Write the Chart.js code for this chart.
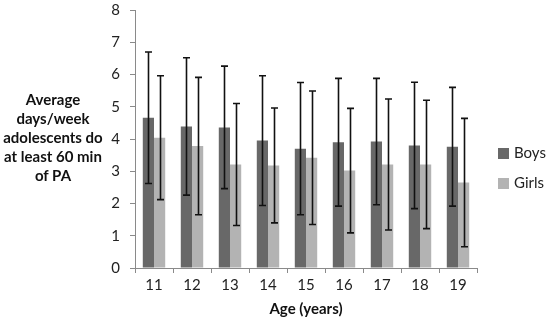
<!DOCTYPE html>
<html lang="en">
<head>
  <meta charset="UTF-8">
  <title>Days per week of PA by age</title>
  <style>
    body {
      margin: 0;
      background: #fff;
      font-family: Lato, "Open Sans", sans-serif;
    }
    .wrap {
      position: relative;
      width: 550px;
      height: 325px;
    }
    canvas {
      display: block;
    }
    .y-title {
      position: absolute;
      left: 0;
      top: 90px;
      width: 106px;
      text-align: center;
      font-weight: bold;
      font-size: 15px;
      line-height: 19px;
      color: #111;
    }
    .legend {
      position: absolute;
      left: 498px;
      top: 143px;
      font-size: 15px;
      color: #222;
    }
    .legend div {
      height: 30px;
      line-height: 18px;
    }
    .legend span {
      display: inline-block;
      width: 11px;
      height: 11px;
      margin-right: 5px;
      vertical-align: -1px;
    }
  </style>
</head>
<body>

  <div class="wrap">
    <canvas id="paChart" width="550" height="325"></canvas>
    <div class="y-title">Average<br>days/week<br>adolescents do<br>at least 60 min<br>of PA</div>
    <div class="legend">
      <div><span style="background:#686868"></span>Boys</div>
      <div><span style="background:#b3b3b3"></span>Girls</div>
    </div>
  </div>

  <script src="https://cdn.jsdelivr.net/npm/chart.js"></script>
  <script>
    // values
    const ages = ['11', '12', '13', '14', '15', '16', '17', '18', '19'];
    const boys = [4.66, 4.39, 4.36, 3.95, 3.70, 3.90, 3.92, 3.80, 3.76];
    const girls = [4.04, 3.78, 3.21, 3.18, 3.42, 3.02, 3.21, 3.21, 2.65];
    const boysSD = [2.04, 2.13, 1.90, 2.01, 2.05, 1.98, 1.96, 1.96, 1.84];
    const girlsSD = [1.92, 2.13, 1.89, 1.78, 2.07, 1.93, 2.03, 1.99, 1.99];
    const yTicks = [0, 1, 2, 3, 4, 5, 6, 7, 8];

    const axisColor = '#8a8a8a';
    const tickFont = { family: 'Lato, "Open Sans", sans-serif', size: 15 };

    // draws +/- SD whiskers on top of each bar
    const errorBars = {
      id: 'errorBars',
      afterDatasetsDraw(chart) {
        const ctx = chart.ctx;
        const y = chart.scales.y;
        ctx.save();
        ctx.strokeStyle = '#111';
        ctx.lineWidth = 1.6;
        chart.data.datasets.forEach((ds, di) => {
          const meta = chart.getDatasetMeta(di);
          meta.data.forEach((bar, i) => {
            const v = ds.data[i];
            const sd = ds.sd[i];
            const top = y.getPixelForValue(v + sd);
            const bot = y.getPixelForValue(v - sd);
            const x = Math.round(bar.x) + 0.5;
            ctx.beginPath();
            ctx.moveTo(x, top);
            ctx.lineTo(x, bot);
            ctx.moveTo(x - 3.5, top);
            ctx.lineTo(x + 3.5, top);
            ctx.moveTo(x - 3.5, bot);
            ctx.lineTo(x + 3.5, bot);
            ctx.stroke();
          });
        });
        ctx.restore();
      }
    };

    new Chart(document.getElementById('paChart'), {
      type: 'bar',
      data: {
        labels: ages,
        datasets: [
          { label: 'Boys', data: boys, sd: boysSD, backgroundColor: '#686868' },
          { label: 'Girls', data: girls, sd: girlsSD, backgroundColor: '#b3b3b3' }
        ]
      },
      options: {
        responsive: false,
        animation: false,
        layout: { padding: { left: 100, right: 73, top: 10, bottom: 7 } },
        datasets: { bar: { categoryPercentage: 0.59, barPercentage: 1.0 } },
        plugins: {
          legend: { display: false },
          tooltip: { enabled: false }
        },
        scales: {
          x: {
            grid: {
              offset: true,
              drawOnChartArea: false,
              color: axisColor,
              tickLength: 5
            },
            border: { color: axisColor, width: 1 },
            ticks: { color: '#222', font: tickFont, padding: 3 },
            title: {
              display: true,
              text: 'Age (years)',
              color: '#111',
              font: { family: tickFont.family, size: 15, weight: 'bold' },
              padding: { top: 3, bottom: 0 }
            }
          },
          y: {
            min: 0,
            max: 8,
            afterFit(scale) {
              scale.width = 35;
              scale.paddingTop = 0;
              scale.paddingBottom = 0;
            },
            afterBuildTicks(scale) { scale.ticks = yTicks.map(v => ({ value: v })); },
            grid: {
              drawOnChartArea: false,
              color: axisColor,
              tickLength: 5
            },
            border: { color: axisColor, width: 1 },
            ticks: { color: '#222', font: tickFont, padding: 10 }
          }
        }
      },
      plugins: [errorBars]
    });
  </script>

</body>
</html>
